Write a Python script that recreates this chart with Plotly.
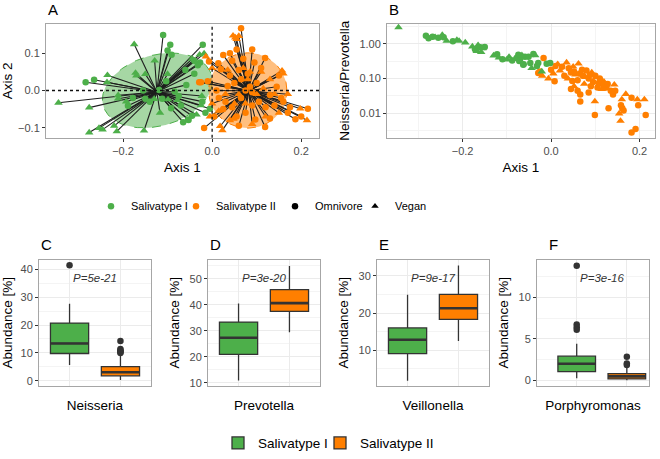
import numpy as np
import plotly.graph_objects as go

GREEN = "#4DAF4A"
ORANGE = "#FF7F00"
FONT = "Liberation Sans, Arial, sans-serif"

# ---------------- Panel A: PCoA (Axis 1 / Axis 2), diet O=omnivore V=vegan
pcoa_I_axis1 = [-0.110, -0.094, -0.100, -0.091, -0.021, -0.027, -0.032, -0.040, -0.284, -0.265,
                -0.119, -0.103, -0.084, -0.054, -0.058, -0.075, -0.070, -0.005, -0.015, -0.140,
                -0.150, -0.178, -0.189, -0.112, -0.092, -0.022, -0.065, -0.045, -0.053, -0.060,
                -0.040, -0.155,
                -0.345, -0.276, -0.235, -0.236, -0.175, -0.172, -0.170, -0.150, -0.129, -0.100,
                -0.211, -0.211, -0.193, -0.276, -0.254, -0.246, -0.220, -0.214, -0.153, -0.117,
                -0.099, -0.078, -0.028, -0.045, -0.025, -0.130, -0.023, -0.035, -0.018]
pcoa_I_axis2 = [0.149, 0.123, 0.107, 0.096, 0.123, 0.075, 0.068, 0.080, 0.022, 0.029,
                0.001, 0.025, -0.003, -0.078, 0.015, -0.015, -0.040, -0.049, -0.060, -0.030,
                -0.022, -0.020, -0.041, -0.022, -0.048, -0.030, -0.085, -0.068, -0.079, 0.055,
                0.045, 0.000,
                -0.033, -0.046, 0.041, 0.022, 0.124, 0.047, 0.040, 0.044, 0.080, 0.044,
                -0.013, -0.022, -0.030, -0.113, -0.101, -0.105, -0.095, -0.110, -0.108, -0.060,
                -0.024, -0.026, 0.096, 0.085, -0.040, -0.023, -0.015, -0.065, 0.099]
pcoa_I_diet = ["O"] * 32 + ["V"] * 29

pcoa_II_axis1 = [0.065, -0.029, -0.025, -0.007, 0.014, 0.020, 0.119, 0.150, 0.215, 0.175,
                 0.187, -0.018, 0.097, 0.119, 0.140, 0.130, 0.100, 0.080, 0.060, 0.040,
                 0.030, 0.045, 0.025, 0.055, 0.075, 0.090, 0.105, 0.120, 0.155, 0.110,
                 0.095, 0.070, 0.045, 0.050, 0.065, 0.085, 0.075, 0.090, 0.065, 0.035,
                 0.010, 0.015, 0.145, 0.160, 0.170, 0.200, 0.130, 0.060, 0.040, 0.055,
                 0.090, 0.025, -0.010, 0.005,
                 0.047, 0.052, 0.055, 0.060, -0.014, 0.157, 0.160, 0.198, 0.213, 0.018,
                 0.023, 0.040, 0.048, 0.015, 0.110, 0.130, 0.120, 0.090, 0.150, 0.070,
                 0.035, 0.000, 0.080, 0.060, 0.100, 0.140, 0.000, 0.030, 0.075, 0.115,
                 -0.005, 0.170, 0.050, 0.085]
pcoa_II_axis2 = [0.167, 0.022, 0.022, 0.078, 0.073, 0.057, 0.087, 0.040, -0.049, -0.045,
                 -0.077, -0.101, -0.078, -0.098, -0.040, -0.012, 0.020, 0.045, 0.055, 0.040,
                 -0.030, -0.045, -0.050, -0.070, -0.060, -0.040, -0.030, -0.045, -0.020, 0.060,
                 0.075, 0.085, 0.080, 0.020, -0.020, 0.010, 0.000, -0.005, 0.030, 0.012,
                 0.000, -0.020, 0.010, -0.030, -0.060, -0.070, -0.075, -0.095, 0.100, 0.110,
                 0.110, 0.095, 0.025, -0.070,
                 0.147, 0.142, 0.138, 0.146, 0.091, 0.053, 0.045, -0.049, -0.080, -0.096,
                 -0.107, -0.080, -0.076, -0.055, 0.050, 0.030, -0.070, -0.090, -0.060, 0.060,
                 0.055, 0.060, 0.030, -0.010, -0.010, -0.010, -0.035, -0.010, -0.035, 0.005,
                 -0.070, -0.010, -0.035, 0.050]
pcoa_II_diet = ["O"] * 54 + ["V"] * 34

centroid_I = (-0.124, -0.004)
centroid_II = (0.082, -0.001)
# ellipse: centre x, centre y, semi-axis a, semi-axis b, rotation (deg)
ellipse_I = (-0.123, 0.000, 0.129, 0.093, 25)
ellipse_II = (0.080, 0.000, 0.088, 0.101, 0)

# ---------------- Panel B: Axis 1 vs Neisseria/Prevotella ratio
ratio_I_axis1 = [-0.345, -0.283, -0.277, -0.268, -0.262, -0.255, -0.246, -0.243, -0.236, -0.222,
                 -0.213, -0.208, -0.194, -0.178, -0.172, -0.165, -0.160, -0.155, -0.150, -0.168,
                 -0.158, -0.130, -0.122, -0.118, -0.110, -0.100, -0.095, -0.088, -0.080, -0.072,
                 -0.068, -0.062, -0.070, -0.078, -0.074, -0.063, -0.051, -0.040, -0.036, -0.047,
                 -0.044, -0.032, -0.021, -0.029, -0.010, -0.002, -0.059, -0.066]
ratio_I_value = [2.98, 1.73, 1.45, 1.60, 1.55, 1.50, 1.80, 1.55, 1.22, 1.20,
                 1.29, 1.22, 1.09, 0.84, 0.70, 0.92, 0.80, 0.75, 0.82, 0.62,
                 0.58, 0.46, 0.50, 0.40, 0.36, 0.35, 0.42, 0.33, 0.38, 0.32,
                 0.44, 0.26, 0.36, 0.39, 0.485, 0.25, 0.43, 0.51, 0.47, 0.28,
                 0.20, 0.23, 0.16, 0.28, 0.27, 0.28, 0.43, 0.47]
ratio_I_diet = ["V", "O", "O", "O", "V", "O", "V", "O", "V", "O",
                "V", "V", "V", "V", "O", "V", "O", "V", "O", "V",
                "V", "V", "O", "V", "O", "V", "V", "O", "V", "O",
                "O", "O", "O", "O", "O", "O", "O", "O", "V", "O",
                "V", "O", "V", "O", "O", "O", "O", "V"]

ratio_II_axis1 = [-0.017, -0.029, -0.025, -0.006, 0.008, -0.020, 0.015, 0.025, 0.035, 0.062,
                  0.040, 0.045, 0.052, 0.055, 0.065, 0.072, 0.078, 0.085, 0.088, 0.095,
                  0.102, 0.108, 0.112, 0.118, 0.125, 0.143, 0.135, 0.052, 0.060, 0.045,
                  0.066, 0.066, 0.085, 0.099, 0.099, 0.130, 0.140, 0.145, 0.160, 0.158,
                  0.161, 0.164, 0.154, 0.157, 0.169, 0.182, 0.195, 0.197, 0.211, 0.214,
                  0.182, 0.191, 0.030, 0.020, 0.010, 0.050, 0.070, 0.080, 0.092, 0.100,
                  0.110, 0.120, 0.128, 0.075, 0.090, 0.105, 0.115, 0.060, 0.038, 0.048,
                  0.000, 0.005]
ratio_II_value = [0.39, 0.145, 0.16, 0.10, 0.084, 0.12, 0.26, 0.22, 0.29, 0.27,
                  0.20, 0.15, 0.16, 0.13, 0.14, 0.12, 0.11, 0.10, 0.13, 0.08,
                  0.11, 0.075, 0.09, 0.065, 0.055, 0.067, 0.045, 0.06, 0.045, 0.05,
                  0.022, 0.035, 0.04, 0.022, 0.0089, 0.0139, 0.035, 0.045, 0.025, 0.017,
                  0.014, 0.012, 0.0098, 0.006, 0.036, 0.028, 0.025, 0.017, 0.025, 0.0089,
                  0.0028, 0.0035, 0.12, 0.17, 0.23, 0.22, 0.18, 0.17, 0.15, 0.12,
                  0.10, 0.08, 0.07, 0.07, 0.06, 0.055, 0.05, 0.09, 0.10, 0.085,
                  0.18, 0.14]
ratio_II_diet = ["O", "O", "O", "V", "O", "V", "V", "O", "V", "V",
                 "O", "O", "O", "V", "O", "O", "V", "O", "O", "O",
                 "V", "O", "O", "O", "O", "V", "O", "V", "O", "O",
                 "O", "O", "O", "V", "O", "O", "O", "O", "V", "O",
                 "O", "O", "V", "V", "V", "O", "V", "O", "V", "O",
                 "O", "O", "O", "V", "O", "V", "O", "O", "V", "O",
                 "O", "V", "O", "V", "O", "O", "V", "O", "V", "O",
                 "O", "V"]

# ---------------- Panels C-F: box plot summaries (abundance %)
genera = ["Neisseria", "Prevotella", "Veillonella", "Porphyromonas"]
p_values = ["P=5e-21", "P=3e-20", "P=9e-17", "P=3e-16"]
I_q1 = [9.8, 20.9, 9.1, 1.07]
I_median = [13.4, 27.3, 12.8, 2.02]
I_q3 = [20.7, 33.3, 16.0, 2.94]
I_lower = [5.7, 10.8, 1.8, 0.28]
I_upper = [27.6, 40.5, 24.9, 4.44]
I_outliers = [[41.4], [], [], [13.8, 6.75, 6.4, 6.1]]
II_q1 = [1.8, 37.4, 18.3, 0.20]
II_median = [3.1, 40.6, 21.3, 0.51]
II_q3 = [5.1, 45.8, 25.0, 0.83]
II_lower = [0.3, 29.4, 12.5, 0.05]
II_upper = [9.6, 54.9, 32.8, 1.6]
II_outliers = [[14.3, 11.4, 11.0, 10.6, 10.3, 10.0], [], [], [2.86, 2.06, 1.87]]

# ---------------- layout geometry (pixels)
W, H = 660, 459


def xd(l, r):
    return [l / W, r / W]


def yd(t, b):
    return [1 - b / H, 1 - t / H]


TICKFONT = dict(family=FONT, size=11, color="#4D4D4D")
TITLEFONT = dict(family=FONT, size=13.5, color="black")
BORDER = "#A6A6A6"
GRID = "#EBEBEB"
MINOR = "#F4F4F4"


def axis(domain, anchor, rng, title, **kw):
    d = dict(domain=domain, anchor=anchor, range=rng, showline=True, mirror=True,
             linecolor=BORDER, linewidth=1, ticks="outside", ticklen=3, tickwidth=1,
             tickcolor="#333333", tickfont=TICKFONT, zeroline=False, showgrid=False,
             title=dict(text=title, font=TITLEFONT, standoff=6))
    d.update(kw)
    return d


fig = go.Figure()


def ellipse_xy(p):
    cx, cy, a, b, ang = p
    t = np.linspace(0, 2 * np.pi, 120)
    th = np.deg2rad(ang)
    ex = a * np.cos(t) * np.cos(th) - b * np.sin(t) * np.sin(th) + cx
    ey = a * np.cos(t) * np.sin(th) + b * np.sin(t) * np.cos(th) + cy
    return ex, ey


def spider(xs, ys, c):
    sx, sy = [], []
    for x, y in zip(xs, ys):
        sx += [c[0], x, None]
        sy += [c[1], y, None]
    return sx, sy


# Panel A traces
for p, col, fill in [(ellipse_I, GREEN, "rgba(77,175,74,0.5)"),
                     (ellipse_II, ORANGE, "rgba(255,127,0,0.5)")]:
    ex, ey = ellipse_xy(p)
    fig.add_trace(go.Scatter(x=ex, y=ey, mode="lines", fill="toself", fillcolor=fill,
                             line=dict(color=col, width=1, dash="dash"),
                             hoverinfo="skip", showlegend=False, xaxis="x", yaxis="y"))

for xs, ys, c in [(pcoa_I_axis1, pcoa_I_axis2, centroid_I),
                  (pcoa_II_axis1, pcoa_II_axis2, centroid_II)]:
    sx, sy = spider(xs, ys, c)
    fig.add_trace(go.Scatter(x=sx, y=sy, mode="lines", line=dict(color="#1E1E1E", width=1.1),
                             hoverinfo="skip", showlegend=False, xaxis="x", yaxis="y"))

SYM = {"O": ("circle", 6.5), "V": ("triangle-up", 7.5)}


def add_points(xs, ys, diets, col, xa, ya):
    for d in ["O", "V"]:
        px = [x for x, dd in zip(xs, diets) if dd == d]
        py = [y for y, dd in zip(ys, diets) if dd == d]
        fig.add_trace(go.Scatter(x=px, y=py, mode="markers",
                                 marker=dict(color=col, symbol=SYM[d][0], size=SYM[d][1],
                                             line=dict(width=0)),
                                 showlegend=False, xaxis=xa, yaxis=ya))


add_points(pcoa_I_axis1, pcoa_I_axis2, pcoa_I_diet, GREEN, "x", "y")
add_points(pcoa_II_axis1, pcoa_II_axis2, pcoa_II_diet, ORANGE, "x", "y")

# Panel B traces
add_points(ratio_II_axis1, ratio_II_value, ratio_II_diet, ORANGE, "x2", "y2")
add_points(ratio_I_axis1, ratio_I_value, ratio_I_diet, GREEN, "x2", "y2")

# Panels C-F
BOXW = 0.75
for i in range(4):
    xa, ya = f"x{i + 3}", f"y{i + 3}"
    for pos, col, name, q1, med, q3, lo, hi, outl, leg in [
        (1, GREEN, "Salivatype I", I_q1, I_median, I_q3, I_lower, I_upper, I_outliers, "legend5"),
        (2, ORANGE, "Salivatype II", II_q1, II_median, II_q3, II_lower, II_upper, II_outliers, "legend6"),
    ]:
        fig.add_trace(go.Box(x=[pos], q1=[q1[i]], median=[med[i]], q3=[q3[i]],
                             lowerfence=[lo[i]], upperfence=[hi[i]], width=BOXW,
                             fillcolor=col, line=dict(color="#333333", width=1.3),
                             whiskerwidth=0, boxpoints=False, name=name,
                             showlegend=(i == 0), legend=leg,
                             xaxis=xa, yaxis=ya))
        fig.add_trace(go.Scatter(x=[pos - BOXW / 2, pos + BOXW / 2], y=[med[i], med[i]],
                                 mode="lines", line=dict(color="#333333", width=2.6),
                                 showlegend=False, hoverinfo="skip", xaxis=xa, yaxis=ya))
        if outl[i]:
            fig.add_trace(go.Scatter(x=[pos] * len(outl[i]), y=outl[i], mode="markers",
                                     marker=dict(color="#333333", size=6.5),
                                     showlegend=False, xaxis=xa, yaxis=ya))

# legend-only entries
legend_entries = [("Salivatype I", GREEN, "circle", "legend"),
                  ("Salivatype II", ORANGE, "circle", "legend2"),
                  ("Omnivore", "black", "circle", "legend3"),
                  ("Vegan", "black", "triangle-up", "legend4")]
for name, col, sym, leg in legend_entries:
    fig.add_trace(go.Scatter(x=[None], y=[None], mode="markers", name=name,
                             marker=dict(color=col, symbol=sym, size=6.5),
                             showlegend=True, legend=leg, xaxis="x", yaxis="y"))

layout = dict(
    width=W, height=H, margin=dict(l=0, r=0, t=0, b=0),
    paper_bgcolor="white", plot_bgcolor="white",
    font=dict(family=FONT, size=11, color="black"),
    xaxis=axis(xd(46, 319), "y", [-0.373, 0.240], "Axis 1",
               tickvals=[-0.2, 0.0, 0.2], tickformat=".1f"),
    yaxis=axis(yd(24, 139), "x", [-0.127, 0.179], "Axis 2",
               tickvals=[-0.1, 0.0, 0.1], tickformat=".1f"),
    xaxis2=axis(xd(387, 655), "y2", [-0.371, 0.235], "Axis 1",
                tickvals=[-0.2, 0.0, 0.2], tickformat=".1f", showgrid=True, gridcolor=GRID,
                minor=dict(tickvals=[-0.3, -0.1, 0.1], showgrid=True, gridcolor=MINOR, ticks="")),
    yaxis2=axis(yd(24, 139), "x2", [-2.706, 0.58], "Neisseria/Prevotella", type="log",
                tickvals=[0.01, 0.1, 1], ticktext=["0.01", "0.10", "1.00"],
                showgrid=True, gridcolor=GRID,
                minor=dict(tickvals=[0.00316, 0.0316, 0.316, 3.16], showgrid=True,
                           gridcolor=MINOR, ticks="")),
)

box_dom = [(39, 151), (208, 320), (377, 489), (537, 649)]
box_yr = [[-1.7, 43.4], [8.86, 57.3], [0.48, 34.35], [-0.6, 14.52]]
box_dt = [10, 10, 10, 5]
box_xr = [[0.4, 2.6], [0.4, 2.6], [0.4, 2.6], [0.208, 2.442]]
for i in range(4):
    n = i + 3
    layout[f"xaxis{n}"] = axis(xd(*box_dom[i]), f"y{n}", box_xr[i], genera[i],
                               tickvals=[1, 2], showticklabels=False, ticks="",
                               showgrid=True, gridcolor=GRID)
    layout[f"xaxis{n}"]["title"]["standoff"] = 14
    layout[f"yaxis{n}"] = axis(yd(262, 389), f"x{n}", box_yr[i], "Abundance [%]",
                               dtick=box_dt[i], tick0=0, showgrid=True, gridcolor=GRID,
                               minor=dict(dtick=box_dt[i] / 2, tick0=0, showgrid=True,
                                          gridcolor=MINOR, ticks=""))

# legends (one per entry so each key sits where the reference draws it)
leg_common = dict(orientation="h", bgcolor="rgba(0,0,0,0)", borderwidth=0,
                  yanchor="middle", xanchor="left", itemclick=False, itemdoubleclick=False)
for key, cx, cy, fs in [("legend", 113, 208, 11), ("legend2", 198, 208, 11),
                        ("legend3", 297, 208, 11), ("legend4", 377, 208, 11),
                        ("legend5", 240, 447, 13.5), ("legend6", 342, 447, 13.5)]:
    layout[key] = dict(leg_common, x=(cx - 22) / W, y=1 - cy / H,
                       font=dict(family=FONT, size=fs, color="black"))

fig.update_layout(**layout)

# reference lines in panel A
for kw in [dict(type="line", xref="x", x0=0, x1=0, yref="y domain", y0=0, y1=1),
           dict(type="line", yref="y", y0=0, y1=0, xref="x domain", x0=0, x1=1)]:
    fig.add_shape(line=dict(color="#111111", width=1.3, dash="dot"), layer="above", **kw)

# panel letters
for letter, px, py in [("A", 46, 10), ("B", 387, 10), ("C", 39, 247),
                       ("D", 208, 247), ("E", 377, 247), ("F", 547, 247)]:
    fig.add_annotation(text=letter, xref="paper", yref="paper", x=px / W, y=1 - py / H,
                       xanchor="left", yanchor="middle", showarrow=False,
                       font=dict(family=FONT, size=15, color="black"))

# p-values
for i in range(4):
    n = i + 3
    fig.add_annotation(text=f"<i>{p_values[i]}</i>", xref=f"x{n}", x=1.5,
                       yref=f"y{n} domain", y=(389 - 280) / 127, showarrow=False,
                       xanchor="center", yanchor="middle",
                       font=dict(family=FONT, size=11.5, color="#333333"))

fig.write_html("out.html", config={"displayModeBar": False},
               post_script="document.body.style.margin='0';")
